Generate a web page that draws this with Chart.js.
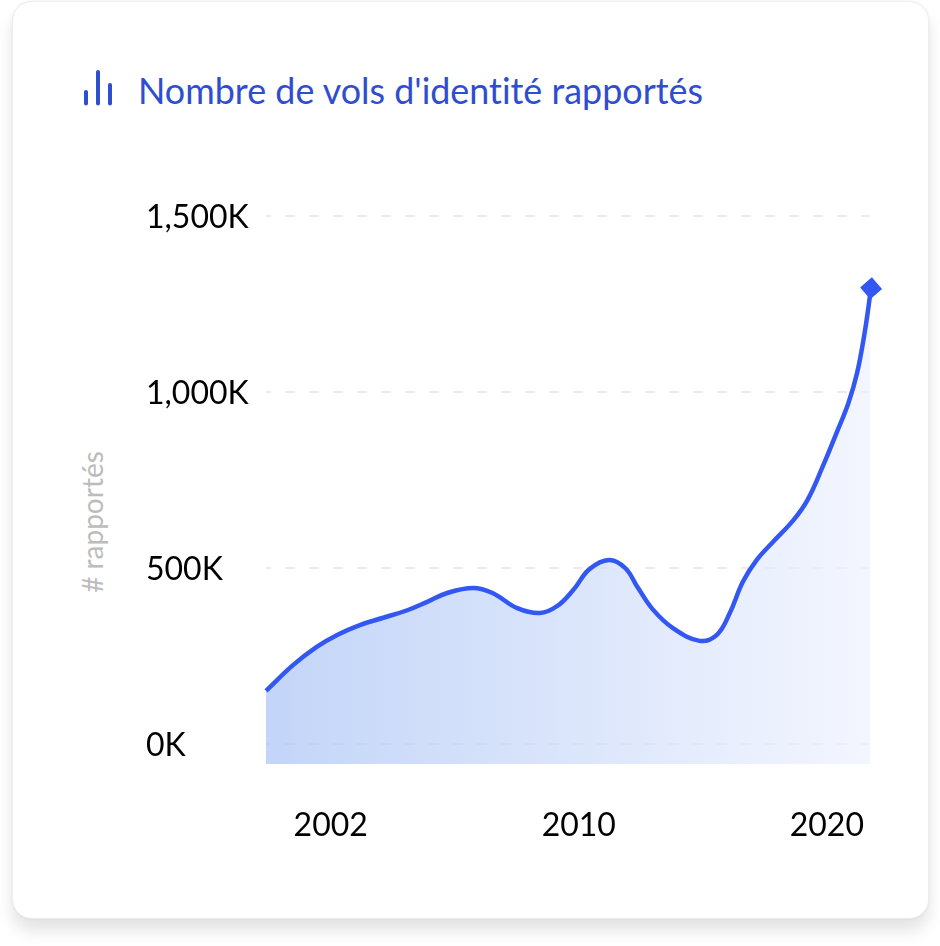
<!DOCTYPE html>
<html lang="fr">
<head>
    <meta charset="UTF-8">
    <title>Nombre de vols d'identité rapportés</title>
    <script src="https://cdn.jsdelivr.net/npm/chart.js"></script>
    <style>
        html, body { margin: 0; background: #fff; }
        body { position: relative; width: 940px; height: 946px; overflow: hidden; font-family: Lato, sans-serif; }
        .card {
            position: absolute; left: 12px; top: 1px; width: 915px; height: 916px;
            background: #fff; border: 1px solid #eeeeee; border-radius: 20px;
            box-shadow: 0 12px 16px rgba(0, 0, 0, 0.11), 0 0 3px rgba(0, 0, 0, 0.06);
        }
        canvas { position: absolute; left: 0; top: 0; }
        .icon { position: absolute; left: 84px; top: 70px; }
        h1 {
            position: absolute; left: 138px; top: 70px; margin: 0;
            font: 400 35.9px/42px Lato, sans-serif; color: #2f4ecf; white-space: nowrap;
            font-variant-ligatures: none;
        }
        .y-title {
            position: absolute; left: 92px; top: 522px; white-space: nowrap;
            font: 400 28px/30px Lato, sans-serif; color: #bcbcbc;
            transform: translate(-50%, -50%) rotate(-90deg);
            font-variant-ligatures: none;
        }
    </style>
</head>
<body>
    <div class="card"></div>
    <svg class="icon" width="28" height="36" fill="#2e4fd0">
        <rect x="0" y="20" width="4" height="15.5" rx="2"></rect>
        <rect x="12" y="0" width="4" height="35.5" rx="2"></rect>
        <rect x="24" y="13" width="4" height="22.5" rx="2"></rect>
    </svg>
    <h1>Nombre de vols d'identité rapportés</h1>
    <div class="y-title"># rapportés</div>
    <canvas id="chart" width="940" height="946"></canvas>

    <script>
        // Position along the axis. The years on the original axis are evenly
        // placed even though they are not evenly spaced in time.
        const axisSteps = [0, 2.5, 4.7, 6.6, 8.7, 10.8, 13.1, 14.9, 16.8, 19.2, 21, 23.3, 25.4, 27, 28.5, 30, 31.8, 33.3, 34.5, 35.9, 37.7, 40.2, 41.8, 43, 44.2, 45.5, 47, 48.9, 50.2, 51.6, 52.9, 54, 54.8, 55.5, 56.1];
        // Reports, in thousands
        const reports = [151, 224, 276, 310, 338, 358, 380, 403, 429, 443, 429, 386, 372, 392, 438, 497, 523, 500, 443, 381, 330, 293, 310, 372, 460, 523, 574, 636, 693, 787, 884, 969, 1054, 1168, 1295];

        const xTickSteps = [6, 29, 52];
        const xTickLabels = ['2002', '2010', '2020'];
        const yTickValues = [0, 500, 1000, 1500];

        const blue = '#3357f2';
        const tickFont = { family: 'Lato', size: 32 };

        const ctx = document.getElementById('chart').getContext('2d');
        new Chart(ctx, {
            type: 'line',
            data: {
                datasets: [{
                    data: axisSteps.map((step, i) => ({ x: step, y: reports[i] })),
                    borderColor: blue,
                    borderWidth: 4.5,
                    tension: 0.4,
                    clip: false,
                    fill: 'start',
                    backgroundColor: (c) => {
                        const area = c.chart.chartArea;
                        if (!area) return 'transparent';
                        const g = c.chart.ctx.createLinearGradient(area.left, 0, area.right, 0);
                        g.addColorStop(0, 'rgba(169, 195, 245, 0.7)');
                        g.addColorStop(1, 'rgba(238, 242, 254, 0.7)');
                        return g;
                    },
                    pointStyle: 'rectRot',
                    pointRotation: 4,
                    pointBackgroundColor: blue,
                    pointBorderWidth: 0,
                    pointRadius: (c) => (c.dataIndex === reports.length - 1 ? 11 : 0)
                }]
            },
            options: {
                responsive: false,
                animation: false,
                layout: { padding: { left: 146, right: 70, top: 216, bottom: 102 } },
                plugins: { legend: { display: false }, tooltip: { enabled: false } },
                scales: {
                    x: {
                        type: 'linear',
                        min: 0,
                        max: 56,
                        afterBuildTicks: (axis) => { axis.ticks = xTickSteps.map((value) => ({ value })); },
                        afterFit: (axis) => { axis.height = 80; },
                        grid: { display: false },
                        border: { display: false },
                        ticks: {
                            autoSkip: false,
                            maxRotation: 0,
                            padding: 34,
                            color: '#000',
                            font: tickFont,
                            callback: (value) => xTickLabels[xTickSteps.indexOf(value)]
                        }
                    },
                    y: {
                        min: -56.8,
                        max: 1500,
                        afterBuildTicks: (axis) => { axis.ticks = yTickValues.map((value) => ({ value })); },
                        afterFit: (axis) => { axis.width = 120; },
                        border: { display: false, dash: [10, 14], dashOffset: 5 },
                        grid: { color: 'rgba(0, 0, 0, 0.075)', lineWidth: 2, drawTicks: false },
                        ticks: {
                            crossAlign: 'far',
                            labelOffset: 2,
                            color: '#000',
                            font: tickFont,
                            callback: (value) => value.toLocaleString('en-US') + 'K'
                        }
                    }
                }
            }
        });
    </script>
</body>
</html>
